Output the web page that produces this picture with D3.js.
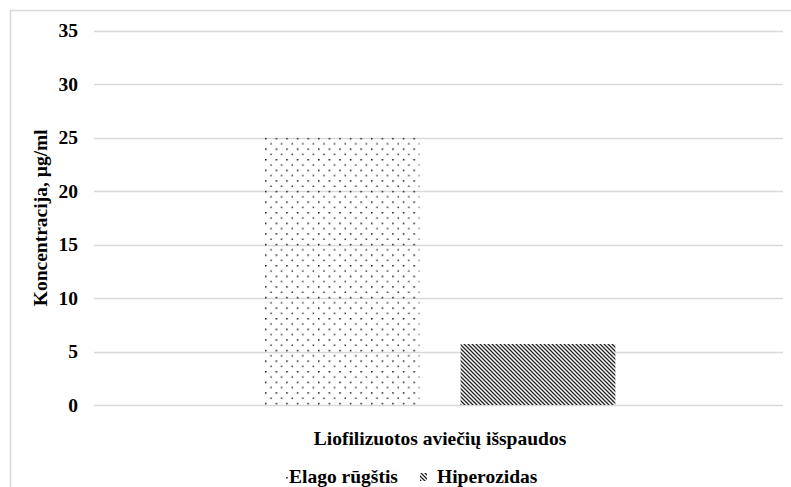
<!DOCTYPE html>
<html><head><meta charset="utf-8">
<script src="https://cdn.jsdelivr.net/npm/d3@7"></script>
<style>body{margin:0;background:#fff}svg{display:block}</style>
</head><body><svg id="c" width="791" height="487"></svg>
<script>
const categories = ["Liofilizuotos aviečių išspaudos"];
const seriesNames = ["Elago rūgštis", "Hiperozidas"];
const seriesValues = [[25], [5.7]];
const yTicks = [0, 5, 10, 15, 20, 25, 30, 35];

const FONT = "'Liberation Serif'";
const W = 791, H = 487;
const plot = {left: 94, right: 783, top: 30.5, bottom: 405};
const svg = d3.select("#c");

function styleText(sel, size) {
  return sel.style("font-family", FONT).style("font-weight", "bold").style("font-size", size + "px").style("fill", "#000");
}

const defs = svg.append("defs");
const pd = defs.append("pattern").attr("id", "pDots").attr("patternUnits", "userSpaceOnUse")
  .attr("width", 10.6).attr("height", 10.6);
pd.append("rect").attr("x", 0).attr("y", 0).attr("width", 1.5).attr("height", 1.5).attr("fill", "#111");
pd.append("rect").attr("x", 5.3).attr("y", 5.3).attr("width", 1.5).attr("height", 1.5).attr("fill", "#333");
const ph = defs.append("pattern").attr("id", "pHatch").attr("patternUnits", "userSpaceOnUse")
  .attr("width", 4).attr("height", 4);
ph.append("rect").attr("width", 4).attr("height", 4).attr("fill", "#fff");
ph.append("path").attr("d", "M-1,-1 L5,5 M-1,3 L1,5 M3,-1 L5,1").attr("stroke", "#222").attr("stroke-width", 1.3);
const fills = ["url(#pDots)", "url(#pHatch)"];

// chart border
svg.append("rect").attr("x", 10.5).attr("y", 10.5).attr("width", W + 20).attr("height", H + 20)
  .attr("fill", "none").attr("stroke", "#d9d9d9").attr("stroke-width", 1.5);

const y = d3.scaleLinear().domain([0, 35]).range([plot.bottom, plot.top]);
const x0 = d3.scaleBand().domain(categories).range([plot.left + 3, plot.right]).paddingInner(0).paddingOuter(0.478);
const x1 = d3.scaleBand().domain(seriesNames).range([0, x0.bandwidth()]).paddingInner(0.21).paddingOuter(0);

// grid
svg.append("g").selectAll("line").data(yTicks).join("line")
  .attr("x1", plot.left).attr("x2", plot.right)
  .attr("y1", d => Math.round(y(d)) + 0.5).attr("y2", d => Math.round(y(d)) + 0.5)
  .attr("stroke", "#d9d9d9").attr("stroke-width", 1.5);

// y axis labels
const yAxis = d3.axisLeft(y).tickValues(yTicks).tickSize(0).tickPadding(0);
const ga = svg.append("g").attr("transform", `translate(78,0)`).call(yAxis);
ga.select(".domain").remove();
styleText(ga.selectAll("text"), 19.5);

// bars
categories.forEach((c, ci) => {
  seriesNames.forEach((s, si) => {
    const v = seriesValues[si][ci];
    svg.append("rect")
      .attr("x", x0(c) + x1(s)).attr("width", x1.bandwidth())
      .attr("y", y(v)).attr("height", y(0) - y(v))
      .attr("fill", fills[si]);
  });
});

// x category label
styleText(svg.selectAll(".xl").data(categories).join("text").attr("class", "xl")
  .attr("x", d => x0(d) + x0.bandwidth() / 2).attr("y", 445)
  .attr("text-anchor", "middle").text(d => d), 19.5);

// y title
styleText(svg.append("text").attr("transform", `translate(47,${(plot.top + plot.bottom) / 2}) rotate(-90)`)
  .attr("text-anchor", "middle").text("Koncentracija, µg/ml"), 19.5);

// legend
const legX = [281, 420];
const lg = svg.append("g");
seriesNames.forEach((s, i) => {
  lg.append("rect").attr("x", legX[i]).attr("y", 473).attr("width", 7).attr("height", 8).attr("fill", fills[i]);
  styleText(lg.append("text").attr("x", legX[i] + 8 + (i ? 9 : 0)).attr("y", 483).text(s), 19.5);
});
</script></body></html>
